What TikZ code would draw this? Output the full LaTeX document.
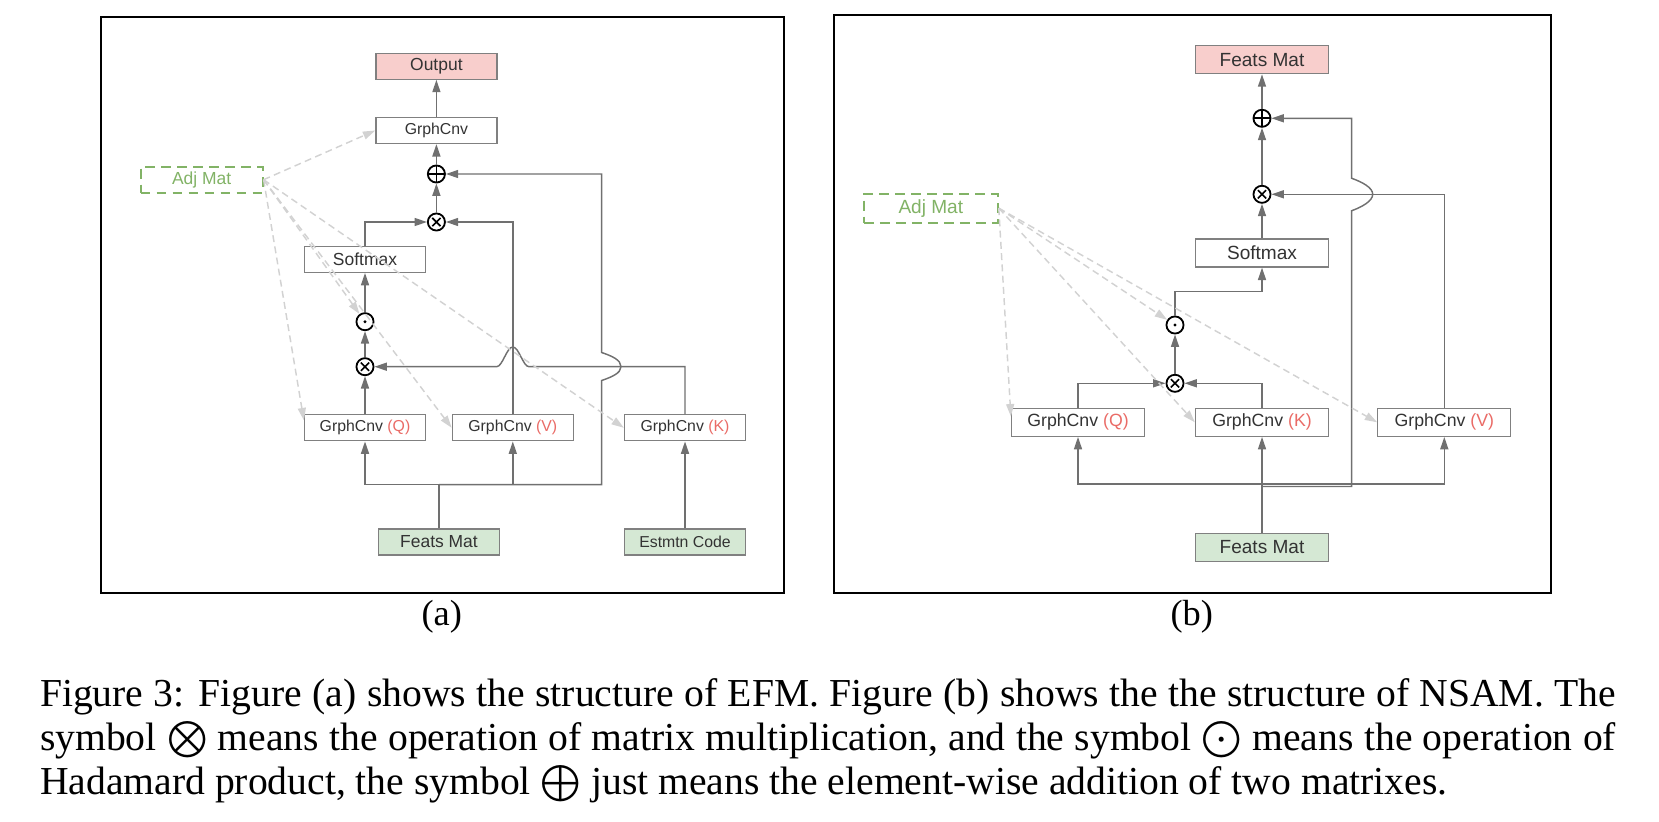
\documentclass[tikz,border=0pt]{standalone}
\usepackage{fontspec}
\setmainfont{Liberation Serif}
\setsansfont{Liberation Sans}
\usetikzlibrary{arrows.meta, positioning, calc}
\def\pxu{0.275pt}
\definecolor{linegray}{HTML}{707070}
\definecolor{boxgray}{HTML}{808080}
\definecolor{txtgray}{HTML}{333333}
\definecolor{dashgray}{HTML}{D2D2D2}
\definecolor{adjgreen}{HTML}{82B366}
\definecolor{featgreen}{HTML}{D5E8D4}
\definecolor{outpink}{HTML}{F8CECC}
\definecolor{qkvred}{HTML}{EA6B66}
\tikzset{
  block/.style={
    draw=boxgray,
    line width=0.35pt,
    rectangle,
    fill=white,
    inner sep=0pt,
    text=txtgray
  },
  blocka/.style={
    block,
    minimum width=121*\pxu,
    minimum height=26*\pxu,
    font=\sffamily\fontsize{4.8}{5.5}\selectfont
  },
  gcnva/.style={
    blocka,
    font=\sffamily\fontsize{4.35}{5}\selectfont
  },
  blockb/.style={
    block,
    minimum width=133*\pxu,
    minimum height=28*\pxu,
    font=\sffamily\fontsize{5.24}{6}\selectfont
  },
  gcnvb/.style={
    blockb,
    font=\sffamily\fontsize{4.87}{5.5}\selectfont
  },
  outfill/.style={fill=outpink},
  featfill/.style={fill=featgreen},
  adjmat/.style={
    draw=adjgreen,
    line width=0.55pt,
    dash pattern=on 2.7pt off 1.7pt,
    text=adjgreen,
    inner sep=0pt
  },
  opnode/.style={
    circle,
    draw=black,
    line width=0.5pt,
    fill=white,
    inner sep=0pt,
    minimum size=4.7pt
  },
  mulop/.style={
    opnode,
    path picture={
      \draw[black, line width=0.45pt]
        ([shift={(45:1.6pt)}]path picture bounding box.center) -- ([shift={(225:1.6pt)}]path picture bounding box.center)
        ([shift={(135:1.6pt)}]path picture bounding box.center) -- ([shift={(-45:1.6pt)}]path picture bounding box.center);
    }
  },
  addop/.style={
    opnode,
    path picture={
      \draw[black, line width=0.45pt]
        ([xshift=-2.4pt]path picture bounding box.center) -- ([xshift=2.4pt]path picture bounding box.center)
        ([yshift=-2.4pt]path picture bounding box.center) -- ([yshift=2.4pt]path picture bounding box.center);
    }
  },
  hadop/.style={
    opnode,
    path picture={
      \fill[black] (path picture bounding box.center) circle (0.45pt);
    }
  },
  line/.style={
    draw=linegray,
    line width=0.4pt
  },
  arrow/.style={
    line,
    -{Triangle[length=3.4pt,width=2.2pt]}
  },
  adjarrow/.style={
    draw=dashgray,
    line width=0.4pt,
    dash pattern=on 1.9pt off 1.2pt,
    -{Triangle[length=3.4pt,width=2.2pt]}
  },
  frame/.style={
    draw=black,
    line width=0.6pt
  }
}

\begin{document}
\begin{tikzpicture}[x=\pxu, y=-\pxu]
  \useasboundingbox (0,0) rectangle (1659,822);

  \draw[frame] (100.7,16.7) rectangle (784,593);
  \draw[frame] (833.7,14.7) rectangle (1550.7,593.3);

  % (a)
  \node[blocka, outfill] (out) at (436.4,66.2) {Output};
  \node[gcnva] (gctop) at (436.4,130.5) {GrphCnv};
  \node[blocka, adjmat, minimum width=122*\pxu] (adj) at (201.6,179.7) {Adj Mat};
  \node[addop] (plus) at (436.4,174) {};
  \node[mulop] (mult) at (436.4,222) {};
  \node[blocka] (soft) at (365,259.3) {Softmax};
  \node[hadop] (dot) at (365,321.7) {};
  \node[mulop] (multl) at (365,366.7) {};
  \node[gcnva] (gcq) at (365,427.8) {GrphCnv \textcolor{qkvred}{(Q)}};
  \node[gcnva] (gcv) at (512.8,427.8) {GrphCnv \textcolor{qkvred}{(V)}};
  \node[gcnva] (gck) at (685,427.8) {GrphCnv \textcolor{qkvred}{(K)}};
  \node[blocka, featfill] (feats) at (439,542) {Feats Mat};
  \node[gcnva, featfill] (code) at (685,542) {Estmtn Code};
  \coordinate (ja) at (439,484.7);

  \draw[line] (feats) -- (ja);
  \draw[arrow] (ja) -| (gcq);
  \draw[arrow] (ja) -| (gcv);
  \draw[arrow] (ja) -- (601.6,484.7) -- (601.6,380.5)
    .. controls (612,377) and (621,373) .. (621,366.7)
    .. controls (621,360) and (612,356) .. (601.6,352.5) |- (plus);
  \draw[arrow] (code) -- (gck);
  \draw[arrow] (gck) |- (529,366.7)
    .. controls (523,366.7) and (519,347) .. (512.8,347)
    .. controls (506.6,347) and (502.6,366.7) .. (496.6,366.7) -- (multl);
  \draw[arrow] (gcq) -- (multl);
  \draw[arrow] (multl) -- (dot);
  \draw[arrow] (dot) -- (soft);
  \draw[arrow] (soft) |- (mult);
  \draw[arrow] (gcv) |- (mult);
  \draw[arrow] (mult) -- (plus);
  \draw[arrow] (plus) -- (gctop);
  \draw[arrow] (gctop) -- (out);

  \draw[adjarrow] (adj.east) -- (gctop.west);
  \draw[adjarrow] (adj.east) -- (dot);
  \draw[adjarrow] (adj.east) -- (gcq.173);
  \draw[adjarrow] (adj.east) -- (gcv.west);
  \draw[adjarrow] (adj.east) -- (gck.west);

  % (b)
  \node[blockb, outfill] (outb) at (1262,59.7) {Feats Mat};
  \node[addop] (plusb) at (1262,118.3) {};
  \node[mulop] (multb) at (1262,194.3) {};
  \node[blockb, adjmat, minimum width=134*\pxu, minimum height=29*\pxu] (adjb) at (930.8,208.2) {Adj Mat};
  \node[blockb] (softb) at (1262,253) {Softmax};
  \node[hadop] (dotb) at (1175,325) {};
  \node[mulop] (multbl) at (1175,383.3) {};
  \node[gcnvb] (gcqb) at (1078,422.3) {GrphCnv \textcolor{qkvred}{(Q)}};
  \node[gcnvb] (gckb) at (1262,422.3) {GrphCnv \textcolor{qkvred}{(K)}};
  \node[gcnvb] (gcvb) at (1444.3,422.3) {GrphCnv \textcolor{qkvred}{(V)}};
  \node[blockb, featfill] (featsb) at (1262,547.5) {Feats Mat};
  \coordinate (jb) at (1262,484.2);

  \draw[arrow] (featsb) -- (gckb);
  \draw[arrow] (jb) -| (gcqb);
  \draw[arrow] (jb) -| (gcvb);
  \draw[arrow] (1262,486.5) -- (1351.7,486.5) -- (1351.7,210.7)
    .. controls (1362,207) and (1372.7,201) .. (1372.7,194.3)
    .. controls (1372.7,187.5) and (1362,182) .. (1351.7,178.3) |- (plusb);
  \draw[arrow] (gcqb) |- (multbl);
  \draw[arrow] (gckb) |- (multbl);
  \draw[arrow] (multbl) -- (dotb);
  \draw[arrow] (dotb) |- (1262,291.7) -- (softb);
  \draw[arrow] (softb) -- (multb);
  \draw[arrow] (gcvb) |- (multb);
  \draw[arrow] (multb) -- (plusb);
  \draw[arrow] (plusb) -- (outb);

  \draw[adjarrow] (adjb.east) -- (gcqb.175);
  \draw[adjarrow] (adjb.east) -- (dotb);
  \draw[adjarrow] (adjb.east) -- (gckb.west);
  \draw[adjarrow] (adjb.east) -- (gcvb.west);

  \node[font=\fontsize{10}{12}\selectfont] (laba) at (441.7,616.7) {(a)};
  \node[font=\fontsize{10}{12}\selectfont] (labb) at (1191.7,616.7) {(b)};

  \node[anchor=base west, text width=1576*\pxu, align=justify, inner sep=0pt,
    font=\fontsize{10.9}{12.1}\selectfont] (caption) at (39.3,706)
    {Figure 3: Figure (a) shows the structure of EFM. Figure (b) shows the the structure of NSAM. The\linebreak
     symbol $\bigotimes$ means the operation of matrix multiplication, and the symbol $\bigodot$ means the operation of\linebreak
     Hadamard product, the symbol $\bigoplus$ just means the element-wise addition of two matrixes.};
\end{tikzpicture}
\end{document}
